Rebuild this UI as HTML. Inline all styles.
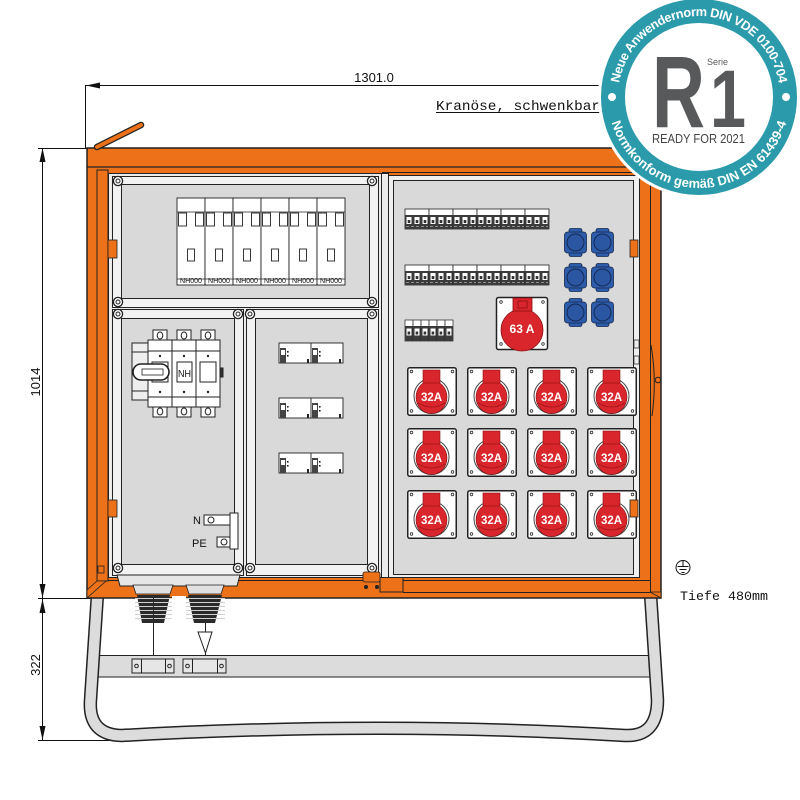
<!DOCTYPE html>
<html><head><meta charset="utf-8"><title>Verteiler</title>
<style>html,body{margin:0;padding:0;background:#fff}svg{display:block}</style></head>
<body>
<svg xmlns="http://www.w3.org/2000/svg" width="800" height="800" viewBox="0 0 800 800" font-family="'Liberation Sans', sans-serif">
<defs>
  <g id="sc"><circle r="4.6" fill="#fff" stroke="#222" stroke-width="1.3"/><circle r="2" fill="none" stroke="#222" stroke-width="1"/></g>
  <g id="r32">
    <rect x="0.75" y="0.75" width="48.5" height="47.5" rx="2" fill="#fff" stroke="#222" stroke-width="1.5"/>
    <g fill="none" stroke="#333" stroke-width=".8">
      <circle cx="4.5" cy="4.5" r="1.3"/><circle cx="45.5" cy="4.5" r="1.3"/>
      <circle cx="4.5" cy="44" r="1.3"/><circle cx="45.5" cy="44" r="1.3"/>
    </g>
    <circle cx="24.5" cy="29" r="17.5" fill="none" stroke="#444" stroke-width="1"/>
    <ellipse cx="24.5" cy="30" rx="15.5" ry="16.5" fill="#d9262c" stroke="#8a1010" stroke-width=".6"/>
    <path d="M11 36 Q24.5 44 38 36" fill="none" stroke="#a01418" stroke-width=".8"/>
    <rect x="16" y="3" width="17" height="13" fill="#d9262c" stroke="#8a1010" stroke-width=".6"/>
  </g>
  <g id="bl">
    <rect x="5" y="0.5" width="13" height="28" rx="2" fill="#2d5cab" stroke="#16284d" stroke-width=".8"/>
    <rect x="0.5" y="4" width="22" height="21" rx="3" fill="#2d5cab" stroke="#16284d" stroke-width=".8"/>
    <circle cx="11.5" cy="14.5" r="8.5" fill="#2a56a2" stroke="#142a55" stroke-width="1"/>
  </g>
  <g id="m3">
    <rect x="0" y="0" width="24" height="20" fill="#fff" stroke="#222" stroke-width=".8"/>
    <rect x="0" y="6" width="24" height="14" fill="#3b3b3b"/>
    <rect x="1.5" y="8" width="5" height="7" fill="#fff"/><rect x="9.5" y="8" width="5" height="7" fill="#fff"/><rect x="17.5" y="8" width="5" height="7" fill="#fff"/>
    <rect x="2.7" y="11" width="2.6" height="3" fill="#333"/><rect x="10.7" y="11" width="2.6" height="3" fill="#333"/><rect x="18.7" y="11" width="2.6" height="3" fill="#333"/>
    <line x1="1" y1="17.5" x2="23" y2="17.5" stroke="#aaa" stroke-width=".8" stroke-dasharray="3 2"/>
  </g>
  <g id="m1">
    <rect width="8" height="21" fill="#fff" stroke="#222" stroke-width=".7"/>
    <rect y="6" width="8" height="15" fill="#3b3b3b"/>
    <rect x="1.5" y="8.5" width="5" height="7" fill="#fff"/>
    <rect x="2.6" y="11.5" width="2.6" height="3" fill="#333"/>
  </g>
  <g id="nh">
    <rect width="28" height="87" fill="#fff" stroke="#222" stroke-width=".9"/>
    <line x1="0" y1="14" x2="28" y2="14" stroke="#222" stroke-width=".8"/>
    <rect x="1.5" y="15" width="8" height="13" fill="#fff" stroke="#222" stroke-width=".9"/>
    <rect x="18.5" y="15" width="8" height="13" fill="#fff" stroke="#222" stroke-width=".9"/>
    <rect x="10.5" y="51" width="7" height="12" fill="#fff" stroke="#222" stroke-width=".9"/>
    <line x1="0" y1="81" x2="28" y2="81" stroke="#222" stroke-width=".7"/>
  </g>
  <g id="m2h">
    <rect x="1" y="5" width="6" height="15" fill="#444"/>
    <rect x="2" y="7" width="4" height="5" fill="#fff"/>
    <rect x="8" y="8" width="1.6" height="1.6" fill="#222"/><rect x="8" y="12" width="1.6" height="1.6" fill="#222"/>
    <rect x="28" y="16" width="2" height="4" fill="#222"/>
  </g>
  <g id="m2">
    <rect width="64" height="20" fill="#fff" stroke="#222" stroke-width=".9"/>
    <line x1="32" y1="0" x2="32" y2="20" stroke="#222" stroke-width=".9"/>
    <use href="#m2h"/><use href="#m2h" x="32"/>
  </g>
</defs>

<rect width="800" height="800" fill="#fff"/>

<!-- ===== dimensions ===== -->
<g stroke="#111" stroke-width="1" fill="none">
  <line x1="86" y1="85.5" x2="660" y2="85.5"/>
  <line x1="85.5" y1="85" x2="85.5" y2="148"/>
  <line x1="42.5" y1="148" x2="42.5" y2="740"/>
  <line x1="38" y1="148.5" x2="88" y2="148.5"/>
  <line x1="38" y1="598.5" x2="100" y2="598.5"/>
  <line x1="38" y1="740.5" x2="115" y2="740.5"/>
  <line x1="436" y1="112.5" x2="602" y2="112.5"/>
</g>
<g fill="#111">
  <polygon points="86,85.5 100,82.5 100,88.5"/>
  <polygon points="42.5,148 39.5,162 45.5,162"/>
  <polygon points="42.5,598 39.5,584 45.5,584"/>
  <polygon points="42.5,599 39.5,613 45.5,613"/>
  <polygon points="42.5,740 39.5,726 45.5,726"/>
</g>
<text x="374" y="82" font-size="13" text-anchor="middle" fill="#111">1301.0</text>
<text transform="translate(40,382) rotate(-90)" font-size="13" text-anchor="middle" fill="#111">1014</text>
<text transform="translate(40,665) rotate(-90)" font-size="13" text-anchor="middle" fill="#111">322</text>
<text x="436" y="110" font-family="'Liberation Mono', monospace" font-size="14" textLength="164" lengthAdjust="spacingAndGlyphs" fill="#111">Kranöse, schwenkbar</text>

<!-- ===== stand ===== -->
<rect x="98" y="655.5" width="553" height="21.5" fill="#dcdcdc" stroke="#222" stroke-width="1"/>
<path d="M98 586 L90.5 700 Q88 735 122 735.5 Q380 721 625 735.5 Q657.5 737 657.5 700 L650 586" fill="none" stroke="#222" stroke-width="13.5" stroke-linejoin="round"/>
<path d="M98 586 L90.5 700 Q88 735 122 735.5 Q380 721 625 735.5 Q657.5 737 657.5 700 L650 586" fill="none" stroke="#dcdcdc" stroke-width="10.5" stroke-linejoin="round"/>
<!-- clamps -->
<g fill="#e6e6e6" stroke="#222" stroke-width="1">
  <rect x="132" y="659" width="42" height="14"/>
  <rect x="183" y="659" width="43" height="14"/>
</g>
<g stroke="#222" stroke-width="1" fill="none">
  <line x1="141.5" y1="659" x2="141.5" y2="673"/><line x1="165.5" y1="659" x2="165.5" y2="673"/>
  <line x1="192.5" y1="659" x2="192.5" y2="673"/><line x1="217.5" y1="659" x2="217.5" y2="673"/>
  <circle cx="136.5" cy="666" r="1.8"/><circle cx="169.5" cy="666" r="1.8"/>
  <circle cx="187.5" cy="666" r="1.8"/><circle cx="221.5" cy="666" r="1.8"/>
  <line x1="153.5" y1="600" x2="153.5" y2="655"/>
  <line x1="205.5" y1="610" x2="205.5" y2="655"/>
</g>
<polygon points="198,632 212,632 205.5,653" fill="#fff" stroke="#222" stroke-width="1"/>

<!-- ===== cabinet orange frame ===== -->
<rect x="87" y="148" width="574" height="450" fill="#ed7118" stroke="#222" stroke-width="1.5"/>
<line x1="87" y1="167" x2="661" y2="167" stroke="#222" stroke-width="1.2"/>
<line x1="382" y1="172.5" x2="650" y2="172.5" stroke="#222" stroke-width="1"/>
<line x1="650.5" y1="167" x2="650.5" y2="592" stroke="#222" stroke-width="1"/>
<line x1="100" y1="580.5" x2="650" y2="580.5" stroke="#222" stroke-width="1"/>
<line x1="403" y1="592.5" x2="650" y2="592.5" stroke="#222" stroke-width="1"/>
<polygon points="650,592 661,598 661,592" fill="#ed7118" stroke="#222" stroke-width=".8"/>
<rect x="380" y="575" width="23" height="17" fill="#ed7118" stroke="#222" stroke-width="1"/>
<!-- crane eye -->
<line x1="97" y1="147" x2="141" y2="125" stroke="#222" stroke-width="6.5" stroke-linecap="round"/>
<line x1="97" y1="147" x2="141" y2="125" stroke="#ed7118" stroke-width="4" stroke-linecap="round"/>
<!-- left door strip -->
<rect x="97" y="170" width="11" height="411" fill="#ed7118" stroke="#222" stroke-width="1"/>
<polygon points="87,598 87,590 97,581 106,581" fill="#ed7118" stroke="#222" stroke-width=".8"/>
<rect x="98" y="566" width="6" height="7" fill="none" stroke="#222" stroke-width=".8"/>

<!-- ===== left door ===== -->
<rect x="108.5" y="173.5" width="280" height="404" fill="#ececec" stroke="#222" stroke-width="1"/>
<rect x="112.5" y="176.5" width="266" height="131" fill="#f2f2f2" stroke="#222" stroke-width="1"/>
<rect x="121.5" y="184.5" width="248" height="114" fill="#d9d9d9" stroke="#222" stroke-width="1"/>
<rect x="112.5" y="309.5" width="131" height="266" fill="#f2f2f2" stroke="#222" stroke-width="1"/>
<rect x="121.5" y="318.5" width="113" height="246" fill="#d9d9d9" stroke="#222" stroke-width="1"/>
<rect x="246.5" y="309.5" width="132" height="266" fill="#f2f2f2" stroke="#222" stroke-width="1"/>
<rect x="255.5" y="318.5" width="112" height="246" fill="#d9d9d9" stroke="#222" stroke-width="1"/>
<line x1="381.5" y1="174" x2="381.5" y2="577" stroke="#222" stroke-width="1"/>
<g fill="#ed7118" stroke="#222" stroke-width=".8">
  <rect x="108" y="240" width="9" height="18"/>
  <rect x="108" y="500" width="9" height="17"/>
</g>
<use href="#sc" x="118" y="181"/><use href="#sc" x="372" y="181"/>
<use href="#sc" x="118" y="302"/><use href="#sc" x="372" y="302"/>
<use href="#sc" x="118" y="314"/><use href="#sc" x="238" y="314"/>
<use href="#sc" x="250" y="314"/><use href="#sc" x="372" y="314"/>
<use href="#sc" x="118" y="568"/><use href="#sc" x="238" y="568"/>
<use href="#sc" x="250" y="568"/><use href="#sc" x="372" y="568"/>
<rect x="363" y="572" width="17" height="10" rx="2" fill="#ed7118" stroke="#222" stroke-width=".8"/>
<circle cx="366" cy="587" r="2" fill="#222"/><circle cx="377" cy="587" r="2" fill="#222"/>

<!-- NH fuse block -->
<use href="#nh" x="177" y="198"/><use href="#nh" x="205" y="198"/><use href="#nh" x="233" y="198"/>
<use href="#nh" x="261" y="198"/><use href="#nh" x="289" y="198"/><use href="#nh" x="317" y="198"/>
<g font-size="7.5" text-anchor="middle" fill="#111">
  <text x="191" y="283" textLength="22" lengthAdjust="spacingAndGlyphs">NH000</text>
  <text x="219" y="283" textLength="22" lengthAdjust="spacingAndGlyphs">NH000</text>
  <text x="247" y="283" textLength="22" lengthAdjust="spacingAndGlyphs">NH000</text>
  <text x="275" y="283" textLength="22" lengthAdjust="spacingAndGlyphs">NH000</text>
  <text x="303" y="283" textLength="22" lengthAdjust="spacingAndGlyphs">NH000</text>
  <text x="331" y="283" textLength="22" lengthAdjust="spacingAndGlyphs">NH000</text>
</g>

<!-- main switch -->
<g stroke="#222" stroke-width="1">
  <rect x="132" y="343" width="17" height="57" fill="#eee"/>
  <line x1="132" y1="352" x2="149" y2="352"/><line x1="132" y1="391" x2="149" y2="391"/>
  <rect x="153" y="330" width="14" height="11" fill="#fff"/><rect x="177" y="330" width="14" height="11" fill="#fff"/><rect x="201" y="330" width="14" height="11" fill="#fff"/>
  <rect x="153" y="406" width="14" height="11" fill="#fff"/><rect x="177" y="406" width="14" height="11" fill="#fff"/><rect x="201" y="406" width="14" height="11" fill="#fff"/>
  <ellipse cx="160" cy="335.5" rx="2.8" ry="3.5" fill="none"/><ellipse cx="184" cy="335.5" rx="2.8" ry="3.5" fill="none"/><ellipse cx="208" cy="335.5" rx="2.8" ry="3.5" fill="none"/>
  <ellipse cx="160" cy="411.5" rx="2.8" ry="3.5" fill="none"/><ellipse cx="184" cy="411.5" rx="2.8" ry="3.5" fill="none"/><ellipse cx="208" cy="411.5" rx="2.8" ry="3.5" fill="none"/>
  <rect x="148" y="340" width="24" height="67" fill="#fff"/>
  <rect x="172" y="340" width="24" height="67" fill="#fff"/>
  <rect x="196" y="340" width="24" height="67" fill="#fff"/>
  <line x1="148" y1="351" x2="220" y2="351"/><line x1="148" y1="397" x2="220" y2="397"/>
  <rect x="152" y="362" width="16" height="20" fill="#fff"/>
  <rect x="177" y="362" width="15" height="20" fill="#fff"/>
  <rect x="200" y="362" width="16" height="20" fill="#fff"/>
  <rect x="133" y="364" width="36" height="16" rx="8" fill="#fff" stroke-width="1.6"/>
  <rect x="142" y="369" width="21" height="6" fill="#fff" stroke-width=".8"/>
  <rect x="220" y="368" width="3" height="9" fill="#333"/>
</g>
<g fill="#222">
  <circle cx="160" cy="356" r="1.2"/><circle cx="184" cy="356" r="1.2"/><circle cx="208" cy="356" r="1.2"/>
  <circle cx="160" cy="392" r="1.2"/><circle cx="184" cy="392" r="1.2"/><circle cx="208" cy="392" r="1.2"/>
</g>
<text x="184.5" y="377" font-size="10" text-anchor="middle" fill="#111" textLength="13" lengthAdjust="spacingAndGlyphs">NH</text>

<!-- N / PE -->
<text x="193" y="524" font-size="11" fill="#111">N</text>
<text x="192" y="547" font-size="11" fill="#111">PE</text>
<g stroke="#222" stroke-width="1" fill="#fff">
  <rect x="204" y="515" width="27" height="10"/>
  <rect x="217" y="537" width="14" height="10"/>
  <rect x="230" y="513" width="8" height="36"/>
  <circle cx="211" cy="520" r="3" fill="none"/>
  <circle cx="224" cy="542" r="3" fill="none"/>
</g>

<use href="#m2" x="279" y="343"/>
<use href="#m2" x="279" y="398"/>
<use href="#m2" x="279" y="453"/>

<!-- ===== right door ===== -->
<rect x="388.5" y="175.5" width="251" height="402" fill="#efefef" stroke="#222" stroke-width="1"/>
<rect x="393.5" y="180.5" width="240" height="394" fill="#d9d9d9" stroke="#222" stroke-width="1"/>
<g fill="#ed7118" stroke="#222" stroke-width=".8">
  <rect x="630" y="240" width="8" height="17"/>
</g>
<path d="M651 345 Q657 380 652 416" fill="none" stroke="#222" stroke-width="1"/>
<circle cx="658" cy="380" r="2.8" fill="none" stroke="#222" stroke-width="1"/>
<rect x="634" y="340" width="5" height="8" fill="#eee" stroke="#222" stroke-width=".7"/>
<rect x="634" y="356" width="5" height="8" fill="#eee" stroke="#222" stroke-width=".7"/>

<use href="#m3" x="405" y="209"/><use href="#m3" x="429" y="209"/><use href="#m3" x="453" y="209"/>
<use href="#m3" x="477" y="209"/><use href="#m3" x="501" y="209"/><use href="#m3" x="525" y="209"/>
<use href="#m3" x="405" y="265"/><use href="#m3" x="429" y="265"/><use href="#m3" x="453" y="265"/>
<use href="#m3" x="477" y="265"/><use href="#m3" x="501" y="265"/><use href="#m3" x="525" y="265"/>
<use href="#m1" x="405" y="320"/><use href="#m1" x="413" y="320"/><use href="#m1" x="421" y="320"/>
<use href="#m1" x="429" y="320"/><use href="#m1" x="437" y="320"/><use href="#m1" x="445" y="320"/>

<use href="#bl" x="564" y="228"/><use href="#bl" x="591" y="228"/>
<use href="#bl" x="564" y="263"/><use href="#bl" x="591" y="263"/>
<use href="#bl" x="564" y="298"/><use href="#bl" x="591" y="298"/>

<rect x="496.5" y="297.5" width="51" height="52" rx="2" fill="#fff" stroke="#222" stroke-width="1.5"/>
<g fill="none" stroke="#333" stroke-width=".8">
  <circle cx="501" cy="302" r="1.3"/><circle cx="543" cy="302" r="1.3"/>
  <circle cx="501" cy="344" r="1.3"/><circle cx="543" cy="344" r="1.3"/>
</g>
<circle cx="522" cy="330" r="21" fill="#d9262c" stroke="#8a1010" stroke-width=".8"/>
<rect x="513" y="298" width="19" height="13" fill="#d9262c" stroke="#8a1010" stroke-width=".8"/>
<rect x="518" y="301" width="9" height="7" fill="none" stroke="#8a1010" stroke-width=".8"/>
<text x="522" y="333" font-size="12" font-weight="bold" text-anchor="middle" fill="#fff">63 A</text>

<use href="#r32" x="407" y="367"/><use href="#r32" x="467" y="367"/><use href="#r32" x="527" y="367"/><use href="#r32" x="587" y="367"/>
<use href="#r32" x="407" y="428"/><use href="#r32" x="467" y="428"/><use href="#r32" x="527" y="428"/><use href="#r32" x="587" y="428"/>
<use href="#r32" x="407" y="490"/><use href="#r32" x="467" y="490"/><use href="#r32" x="527" y="490"/><use href="#r32" x="587" y="490"/>
<g font-size="11.5" font-weight="bold" text-anchor="middle" fill="#fff">
  <text x="431.5" y="401">32A</text><text x="491.5" y="401">32A</text><text x="551.5" y="401">32A</text><text x="611.5" y="401">32A</text>
  <text x="431.5" y="462">32A</text><text x="491.5" y="462">32A</text><text x="551.5" y="462">32A</text><text x="611.5" y="462">32A</text>
  <text x="431.5" y="524">32A</text><text x="491.5" y="524">32A</text><text x="551.5" y="524">32A</text><text x="611.5" y="524">32A</text>
</g>
<rect x="630" y="500" width="8" height="17" fill="#ed7118" stroke="#222" stroke-width=".8"/>

<!-- gland plate + glands -->
<polygon points="117,575 240,575 237,586 120,586" fill="#e6e6e6" stroke="#222" stroke-width="1"/>
<polygon points="133,585 173,585 170,594 136,594" fill="#e0e0e0" stroke="#222" stroke-width=".8"/>
<polygon points="186,585 224,585 221,594 189,594" fill="#e0e0e0" stroke="#222" stroke-width=".8"/>
<polygon points="137,595 170,595 164,623 142,623" fill="#2a2a2a"/>
<polygon points="188,595 222,595 215,623 194,623" fill="#2a2a2a"/>
<g stroke="#d0d0d0" stroke-width="1">
  <line x1="135" y1="598.5" x2="225" y2="598.5"/><line x1="135" y1="602.5" x2="225" y2="602.5"/>
  <line x1="135" y1="606.5" x2="225" y2="606.5"/><line x1="135" y1="610.5" x2="225" y2="610.5"/>
  <line x1="135" y1="614.5" x2="225" y2="614.5"/><line x1="135" y1="618.5" x2="225" y2="618.5"/>
</g>
<rect x="172" y="596" width="14" height="26" fill="#fff"/>
<line x1="153.5" y1="595" x2="153.5" y2="623" stroke="#2a2a2a" stroke-width="1"/>

<!-- ground symbol & depth -->
<g stroke="#111" stroke-width="1" fill="none">
  <circle cx="683" cy="567.5" r="7"/>
  <line x1="683" y1="560.5" x2="683" y2="566"/>
  <line x1="677.5" y1="566.5" x2="688.5" y2="566.5"/>
  <line x1="679.5" y1="569.5" x2="686.5" y2="569.5"/>
  <line x1="681.5" y1="572.5" x2="684.5" y2="572.5"/>
</g>
<text x="680" y="600" font-family="'Liberation Mono', monospace" font-size="13" textLength="88" lengthAdjust="spacingAndGlyphs" fill="#111">Tiefe 480mm</text>

<!-- ===== badge ===== -->
<circle cx="699" cy="97" r="101" fill="#fff"/>
<circle cx="699" cy="97" r="86" fill="none" stroke="#2b9bab" stroke-width="24"/>
<circle cx="699" cy="97" r="73" fill="#fff"/>
<circle cx="612" cy="97" r="4" fill="#fff"/>
<circle cx="786" cy="97" r="4" fill="#fff"/>
<path id="tp" d="M618 97 A81 81 0 0 1 780 97" fill="none"/>
<path id="bp" d="M608 97 A91 91 0 0 0 790 97" fill="none"/>
<text font-size="12.8" font-weight="bold" fill="#fff" letter-spacing="-0.45"><textPath href="#tp" startOffset="50%" text-anchor="middle">Neue Anwendernorm DIN VDE 0100-704</textPath></text>
<text font-size="13" font-weight="bold" fill="#fff" letter-spacing="0.1"><textPath href="#bp" startOffset="50%" text-anchor="middle">Normkonform gemäß DIN EN 61439-4</textPath></text>
<text x="652" y="127" font-size="102" font-weight="bold" fill="#58595b" textLength="53" lengthAdjust="spacingAndGlyphs">R</text>
<text x="710" y="127" font-size="82" font-weight="bold" fill="#58595b" textLength="36" lengthAdjust="spacingAndGlyphs">1</text>
<text x="707" y="65" font-size="9" fill="#58595b">Serie</text>
<text x="652" y="143" font-size="12.5" fill="#444" textLength="93" lengthAdjust="spacingAndGlyphs">READY FOR 2021</text>
</svg>
</body></html>
